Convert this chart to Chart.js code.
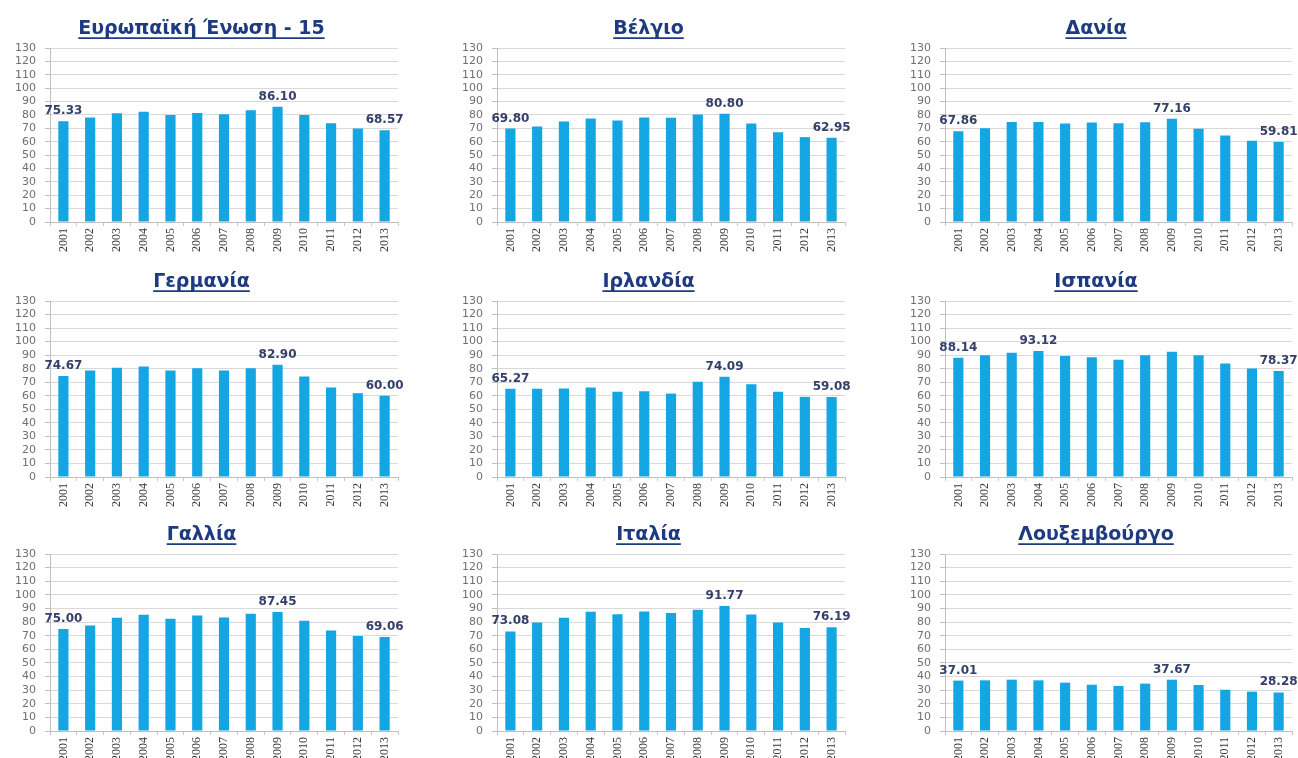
<!DOCTYPE html>
<html lang="el">
<head>
  <meta charset="utf-8" />
  <title>Ευρωπαϊκή Ένωση - 15</title>
  <script src="https://cdn.jsdelivr.net/npm/chart.js@4.4.0/dist/chart.umd.min.js"></script>
  <style>
    html, body { margin: 0; padding: 0; background: #fff; overflow: hidden; }
    body { width: 1298px; height: 758px; position: relative; }
    canvas { position: absolute; }
  </style>
</head>
<body>
  <script>
    // ---- data ----
    const years = ['2001', '2002', '2003', '2004', '2005', '2006', '2007', '2008', '2009', '2010', '2011', '2012', '2013'];
    const yTicks = [0, 130, 10]; // min, max, step

    const eu15 = [75.33, 78.0, 81.3, 82.3, 80.0, 81.5, 80.5, 83.5, 86.10, 80.0, 73.8, 69.8, 68.57];
    const belgium = [69.80, 71.3, 75.1, 77.3, 75.8, 78.0, 77.8, 80.3, 80.80, 73.6, 67.1, 63.4, 62.95];
    const denmark = [67.86, 70.1, 74.8, 74.8, 73.6, 74.3, 73.8, 74.6, 77.16, 69.6, 64.6, 60.7, 59.81];
    const germany = [74.67, 78.7, 80.7, 81.7, 78.7, 80.4, 78.7, 80.4, 82.90, 74.3, 66.1, 61.9, 60.00];
    const ireland = [65.27, 65.1, 65.3, 66.1, 62.9, 63.4, 61.6, 70.3, 74.09, 68.6, 62.9, 59.2, 59.08];
    const spain = [88.14, 89.9, 91.8, 93.12, 89.4, 88.4, 86.6, 89.9, 92.6, 89.9, 83.9, 80.2, 78.37];
    const france = [75.00, 77.5, 83.1, 85.3, 82.4, 84.9, 83.4, 86.1, 87.45, 80.9, 73.8, 69.8, 69.06];
    const italy = [73.08, 79.7, 83.1, 87.6, 85.8, 87.8, 86.6, 89.0, 91.77, 85.6, 79.7, 75.7, 76.19];
    const luxembourg = [37.01, 37.2, 37.7, 37.2, 35.5, 34.0, 33.1, 34.8, 37.67, 33.8, 30.3, 28.9, 28.28];

    const titles = ['Ευρωπαϊκή Ένωση - 15', 'Βέλγιο', 'Δανία', 'Γερμανία', 'Ιρλανδία', 'Ισπανία', 'Γαλλία', 'Ιταλία', 'Λουξεμβούργο'];
    const series = [eu15, belgium, denmark, germany, ireland, spain, france, italy, luxembourg];
    // which bars carry a value label (first, peak, last)
    const labelIdx = [[0, 8, 12], [0, 8, 12], [0, 8, 12], [0, 8, 12], [0, 8, 12], [0, 3, 12], [0, 8, 12], [0, 8, 12], [0, 8, 12]];

    // ---- layout ----
    const cols = [{ left: 5, width: 400, padRight: 7 }, { left: 452, width: 400, padRight: 7 }, { left: 900, width: 398, padRight: 6 }];
    const rows = [{ top: 10, height: 246 }, { top: 263, height: 248 }, { top: 516, height: 249 }];

    const NAVY = '#1e3a80';
    const BAR = '#14a5e3';
    const TITLE_SIZE = 19;
    const TITLE_PAD = [7.2, 8];

    // draws the numbers above selected bars
    const valueLabels = {
      id: 'valueLabels',
      afterDatasetsDraw(chart, args, opts) {
        const ctx = chart.ctx;
        const meta = chart.getDatasetMeta(0);
        const vals = chart.data.datasets[0].data;
        ctx.save();
        ctx.font = 'bold 12px "DejaVu Sans", Verdana, sans-serif';
        ctx.fillStyle = '#34406a';
        ctx.textAlign = 'center';
        ctx.textBaseline = 'alphabetic';
        opts.idx.forEach(i => {
          const bar = meta.data[i];
          ctx.fillText(vals[i].toFixed(2), bar.x, bar.y - 7);
        });
        ctx.restore();
      }
    };

    // underline under the chart title
    const titleUnderline = {
      id: 'titleUnderline',
      afterDraw(chart) {
        const tb = chart.titleBlock;
        if (!tb) return;
        const ctx = chart.ctx;
        const text = chart.options.plugins.title.text;
        ctx.save();
        ctx.font = 'bold ' + TITLE_SIZE + 'px "DejaVu Sans", Verdana, sans-serif';
        const w = ctx.measureText(text).width;
        const cx = tb.left + tb.width / 2;
        const y = tb.top + TITLE_PAD[0] + TITLE_SIZE * 0.6 + TITLE_SIZE * 0.5;
        ctx.strokeStyle = NAVY;
        ctx.lineWidth = 1.6;
        ctx.beginPath();
        ctx.moveTo(cx - w / 2, y);
        ctx.lineTo(cx + w / 2, y);
        ctx.stroke();
        ctx.restore();
      }
    };

    series.forEach((data, n) => {
      const col = cols[n % 3];
      const row = rows[Math.floor(n / 3)];
      const canvas = document.createElement('canvas');
      canvas.width = col.width;
      canvas.height = row.height;
      canvas.style.left = col.left + 'px';
      canvas.style.top = row.top + 'px';
      document.body.appendChild(canvas);

      new Chart(canvas.getContext('2d'), {
        type: 'bar',
        data: {
          labels: years,
          datasets: [{
            data: data,
            backgroundColor: BAR,
            borderWidth: 0,
            categoryPercentage: 1,
            barPercentage: 0.38
          }]
        },
        options: {
          responsive: false,
          animation: false,
          events: [],
          layout: { padding: { left: 0, right: col.padRight, top: 0, bottom: 0 } },
          plugins: {
            legend: { display: false },
            tooltip: { enabled: false },
            title: {
              display: true,
              text: titles[n],
              color: NAVY,
              font: { family: '"DejaVu Sans", Verdana, sans-serif', size: TITLE_SIZE, weight: 'bold', lineHeight: 1.2 },
              padding: { top: TITLE_PAD[0], bottom: TITLE_PAD[1] }
            },
            valueLabels: { idx: labelIdx[n] }
          },
          scales: {
            x: {
              afterFit(scale) { scale.height = 34; },
              grid: { display: true, drawOnChartArea: false, drawTicks: true, tickLength: 4, color: '#e3b8c0' },
              border: { color: '#bfbfbf' },
              ticks: {
                minRotation: 90,
                maxRotation: 90,
                autoSkip: false,
                padding: 2,
                color: '#3a3a3a',
                font: { family: '"Liberation Serif", serif', size: 12 }
              }
            },
            y: {
              min: yTicks[0],
              max: yTicks[1],
              afterFit(scale) { scale.width = 45; },
              grid: { color: '#d9d9d9', tickLength: 5, tickColor: '#bfbfbf' },
              border: { color: '#bfbfbf' },
              ticks: {
                stepSize: yTicks[2],
                autoSkip: false,
                padding: 9,
                color: '#707070',
                font: { family: '"DejaVu Sans", Verdana, sans-serif', size: 11 }
              }
            }
          }
        },
        plugins: [valueLabels, titleUnderline]
      });
    });
  </script>
</body>
</html>
